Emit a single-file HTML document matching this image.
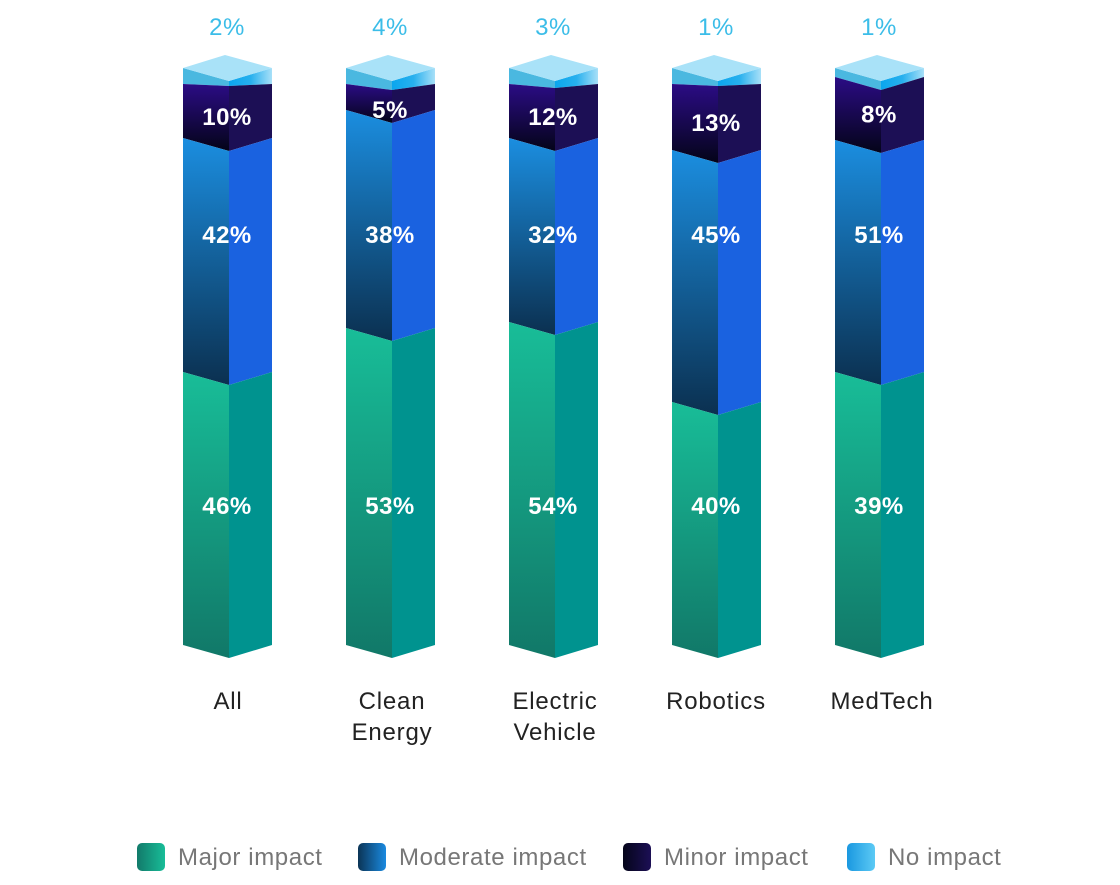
<!DOCTYPE html>
<html><head><meta charset="utf-8"><style>
body{margin:0;background:#fff;width:1120px;height:885px;overflow:hidden}
svg{display:block}
text{font-family:"Liberation Sans",sans-serif}
</style></head><body>
<svg width="1120" height="885" viewBox="0 0 1120 885">
<defs>
<linearGradient id="gMaj" x1="0" y1="0" x2="0" y2="1"><stop offset="0" stop-color="#18bd98"/><stop offset="1" stop-color="#117868"/></linearGradient>
<linearGradient id="gMod" x1="0" y1="0" x2="0" y2="1"><stop offset="0" stop-color="#1b8ee0"/><stop offset="1" stop-color="#0b3050"/></linearGradient>
<linearGradient id="gMin" x1="0" y1="0" x2="0" y2="1"><stop offset="0" stop-color="#2b0c85"/><stop offset="1" stop-color="#040418"/></linearGradient>
<linearGradient id="gCapR" x1="0" y1="0" x2="1" y2="0"><stop offset="0" stop-color="#0aa6ee"/><stop offset="0.5" stop-color="#27b0ee"/><stop offset="1" stop-color="#a8e0f8"/></linearGradient>
<linearGradient id="lMaj" x1="0" y1="0" x2="1" y2="0"><stop offset="0" stop-color="#127a6a"/><stop offset="1" stop-color="#18bd98"/></linearGradient>
<linearGradient id="lMod" x1="0" y1="0" x2="1" y2="0"><stop offset="0" stop-color="#0b3456"/><stop offset="1" stop-color="#1a8ae0"/></linearGradient>
<linearGradient id="lMin" x1="0" y1="0" x2="1" y2="0"><stop offset="0" stop-color="#05051a"/><stop offset="1" stop-color="#1c0f55"/></linearGradient>
<linearGradient id="lNo" x1="0" y1="0" x2="1" y2="0"><stop offset="0" stop-color="#1a98e0"/><stop offset="1" stop-color="#5ccaf5"/></linearGradient>
</defs>
<g id="bars"></g>
<g font-size="24" fill="#222" text-anchor="middle" letter-spacing="0.8">
<text x="228" y="709">All</text>
<text x="392" y="709">Clean</text><text x="392" y="740">Energy</text>
<text x="555" y="709">Electric</text><text x="555" y="740">Vehicle</text>
<text x="716" y="709">Robotics</text>
<text x="882" y="709">MedTech</text>
</g>
<g font-size="24" fill="#777" letter-spacing="0.6">
<rect x="137" y="843" width="28" height="28" rx="5" fill="url(#lMaj)"/><text x="178" y="865">Major impact</text>
<rect x="358" y="843" width="28" height="28" rx="5" fill="url(#lMod)"/><text x="399" y="865">Moderate impact</text>
<rect x="623" y="843" width="28" height="28" rx="5" fill="url(#lMin)"/><text x="664" y="865">Minor impact</text>
<rect x="847" y="843" width="28" height="28" rx="5" fill="url(#lNo)"/><text x="888" y="865">No impact</text>
</g>
</svg>
<script>
const bars=[
 {c:229,no:"2%",mi:"10%",mo:"42%",ma:"46%",capL:84,capC:86,minB:138,modB:372},
 {c:392,no:"4%",mi:"5%",mo:"38%",ma:"53%",capL:84,capC:90,minB:110,modB:328},
 {c:555,no:"3%",mi:"12%",mo:"32%",ma:"54%",capL:84,capC:88,minB:138,modB:322},
 {c:718,no:"1%",mi:"13%",mo:"45%",ma:"40%",capL:84,capC:86,minB:150,modB:402},
 {c:881,no:"1%",mi:"8%",mo:"51%",ma:"39%",capL:77,capC:90,minB:140,modB:372}
];
const g=document.getElementById('bars');let h='';
const P=(pts,f)=>`<polygon points="${pts.map(p=>p.join(',')).join(' ')}" fill="${f}"/>`;
const O=13;
for(const b of bars){
 const L=b.c-46,C=b.c,R=b.c+43;
 const capR=b.capL;
 h+=P([[L,68],[C,81],[C,b.capC],[L,b.capL]],'#4ab8e0');
 h+=P([[C,81],[R,68],[R,capR],[C,b.capC]],'url(#gCapR)');
 h+=P([[L,68],[C-4,55],[R,68],[C,81]],'#a9e2f8');
 h+=P([[L,b.capL],[C,b.capC],[C,b.minB+O],[L,b.minB]],'url(#gMin)');
 h+=P([[C,b.capC],[R,capR],[R,b.minB],[C,b.minB+O]],'#1c0f55');
 h+=P([[L,b.minB],[C,b.minB+O],[C,b.modB+O],[L,b.modB]],'url(#gMod)');
 h+=P([[C,b.minB+O],[R,b.minB],[R,b.modB],[C,b.modB+O]],'#1a62e0');
 h+=P([[L,b.modB],[C,b.modB+O],[C,658],[L,645]],'url(#gMaj)');
 h+=P([[C,b.modB+O],[R,b.modB],[R,645],[C,658]],'#00938f');
 const tx=C-2;
 h+=`<text x="${tx}" y="35" font-size="24" fill="#3bbde8" text-anchor="middle" letter-spacing="0.5">${b.no}</text>`;
 const wt=(y,s)=>`<text x="${tx}" y="${y}" font-size="24" font-weight="bold" fill="#fff" text-anchor="middle" letter-spacing="0.5">${s}</text>`;
 h+=wt(Math.max((b.capL+b.minB)/2+14,118),b.mi);
 h+=wt(243,b.mo);
 h+=wt(514,b.ma);
}
g.innerHTML=h;
</script>
</body></html>
